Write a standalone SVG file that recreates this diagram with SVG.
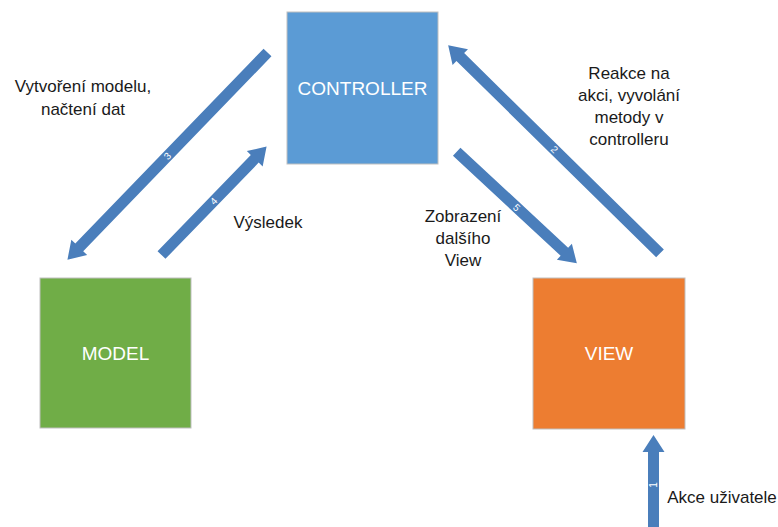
<svg xmlns="http://www.w3.org/2000/svg" width="778" height="527" viewBox="0 0 778 527">
<style>
.box{stroke:#bfbfbf;stroke-width:1}
.btxt{font-family:"Liberation Sans",Arial,sans-serif;font-size:19px;fill:#ffffff;text-anchor:middle;dominant-baseline:central}
.lbl{font-family:"Liberation Sans",Arial,sans-serif;font-size:17px;fill:#1a1a1a;text-anchor:middle}
.arr{fill:#4a7ebb}
.num{font-family:"Liberation Sans",Arial,sans-serif;font-size:10px;fill:#ffffff;text-anchor:middle;dominant-baseline:central}
</style>
<rect width="778" height="527" fill="#ffffff"/>
<g id="controller">
<rect class="box" x="287" y="12" width="151" height="152" fill="#5b9bd5"/>
<text class="btxt" x="362.5" y="88">CONTROLLER</text>
</g>
<g id="model">
<rect class="box" x="40" y="278" width="151" height="150" fill="#70ad47"/>
<text class="btxt" x="115.5" y="353">MODEL</text>
</g>
<g id="view">
<rect class="box" x="533" y="278" width="152" height="151" fill="#ed7d31"/>
<text class="btxt" x="609" y="353">VIEW</text>
</g>
<g id="connectors">
<g transform="translate(653.5,530) rotate(-90)">
<path class="arr" d="M0,-5.5 H78 V-11 L95,0 L78,11 V5.5 H0 Z"/>
<text class="num" x="45" y="0">1</text>
</g>
<g transform="translate(660,253.3) rotate(-135.5)">
<path class="arr" d="M0,-5.5 H280 V-11 L297,0 L280,11 V5.5 H0 Z"/>
<text class="num" x="148" y="0" transform="rotate(180 148 0)">2</text>
</g>
<g transform="translate(267.5,52.5) rotate(134)">
<path class="arr" d="M0,-5.5 H271 V-11 L288,0 L271,11 V5.5 H0 Z"/>
<text class="num" x="144" y="0" transform="rotate(180 144 0)">3</text>
</g>
<g transform="translate(161.5,255) rotate(-45.9)">
<path class="arr" d="M0,-5.5 H134 V-11 L151,0 L134,11 V5.5 H0 Z"/>
<text class="num" x="75" y="0">4</text>
</g>
<g transform="translate(456.7,151.7) rotate(42.9)">
<path class="arr" d="M0,-5.5 H147 V-11 L164,0 L147,11 V5.5 H0 Z"/>
<text class="num" x="82" y="0">5</text>
</g>
</g>
<g id="labels">
<text class="lbl" x="83" y="92">Vytvoření modelu,</text>
<text class="lbl" x="83" y="115">načtení dat</text>
<text class="lbl" x="268" y="228">Výsledek</text>
<text class="lbl" x="463" y="222">Zobrazení</text>
<text class="lbl" x="463" y="244">dalšího</text>
<text class="lbl" x="463" y="266">View</text>
<text class="lbl" x="629" y="79">Reakce na</text>
<text class="lbl" x="629" y="101">akci, vyvolání</text>
<text class="lbl" x="629" y="123">metody v</text>
<text class="lbl" x="629" y="145">controlleru</text>
<text class="lbl" x="722" y="503">Akce uživatele</text>
</g>
</svg>
